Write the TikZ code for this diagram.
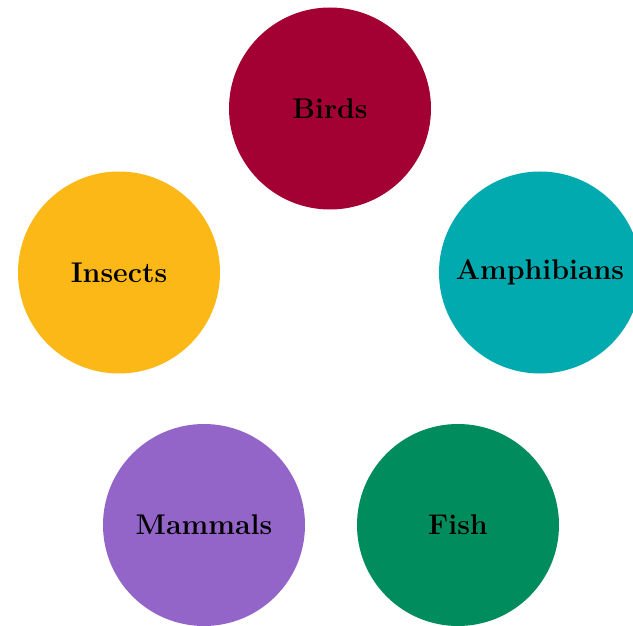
\documentclass[tikz,border=0pt]{standalone}
\usepackage{fontspec}
\definecolor{cbird}{HTML}{A30034}
\definecolor{camph}{HTML}{00AAAF}
\definecolor{cins}{HTML}{FBB817}
\definecolor{cmam}{HTML}{9465C9}
\definecolor{cfish}{HTML}{008C5C}
\begin{document}
\begin{tikzpicture}[x=1pt,y=-1pt,
  blob/.style={circle,minimum size=202pt,inner sep=0pt,font=\fontsize{28.5}{32}\selectfont\bfseries}]
\useasboundingbox (0,0) rectangle (633,626);
\node[blob,fill=cbird] (birds) at (330,108.5) {Birds};
\node[blob,fill=cins] (insects) at (119,272.5) {Insects};
\node[blob,fill=camph] (amph) at (540,272.5) {Amphibians};
\node[blob,fill=cmam] (mammals) at (204,525) {Mammals};
\node[blob,fill=cfish] (fish) at (458,525) {Fish};
\end{tikzpicture}
\end{document}
